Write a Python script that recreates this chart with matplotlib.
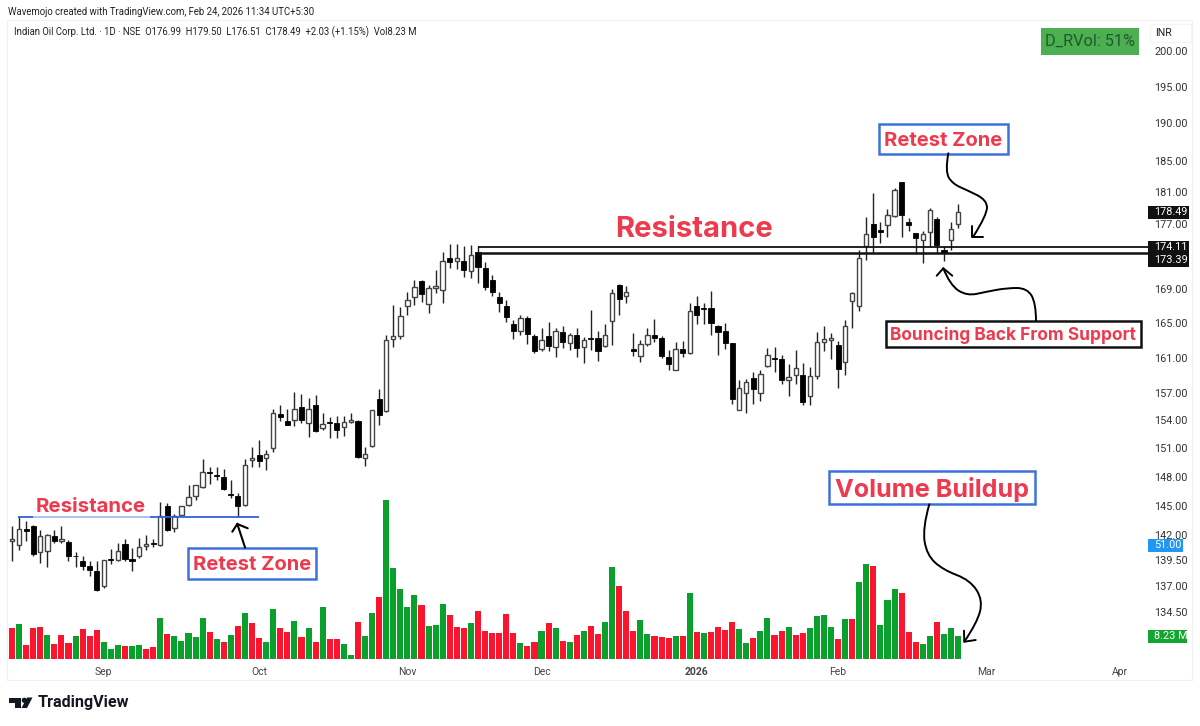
import numpy as np
import matplotlib
matplotlib.use("Agg")
import matplotlib.pyplot as plt
from matplotlib.patches import PathPatch, Polygon, Circle, Rectangle
from matplotlib.path import Path

plt.rcParams['font.family'] = ['Roboto', 'DejaVu Sans']

# =========================
# data
# =========================

opens = [141.39, 141.02, 142.60, 142.94, 140.26, 140.36, 141.93, 141.39, 141.29, 139.93,
         139.44, 138.88, 138.42, 136.93, 139.60, 139.50, 141.12, 139.60, 139.96, 140.92,
         141.19, 140.98, 144.91, 142.70, 143.98, 145.01, 146.01, 146.90, 148.43, 148.15,
         147.94, 146.18, 145.94, 145.01, 149.77, 150.30, 149.95, 150.97, 154.68, 153.96,
         154.00, 155.42, 153.71, 155.71, 153.17, 153.82, 153.71, 153.28, 153.82, 153.96,
         149.95, 151.25, 156.38, 155.00, 163.13, 163.44, 166.94, 168.04, 169.99, 167.21,
         169.10, 168.91, 172.69, 172.41, 172.33, 171.12, 173.47, 171.48, 170.03, 168.00,
         166.94, 164.86, 164.09, 165.52, 163.47, 161.97, 163.44, 162.20, 163.94, 162.67,
         163.63, 162.20, 163.21, 163.28, 162.36, 165.17, 169.46, 168.12, 161.93, 161.21,
         162.59, 163.59, 163.28, 161.06, 159.59, 161.94, 161.52, 166.97, 166.77, 166.77,
         164.66, 164.08, 162.63, 155.19, 157.01, 158.66, 157.01, 160.00, 160.94, 160.86,
         158.43, 159.03, 159.07, 156.72, 158.95, 162.74, 162.97, 162.47, 160.52, 167.56,
         167.01, 174.17, 176.93, 176.15, 176.77, 177.98, 182.23, 177.22, 175.82, 174.91,
         175.90, 177.64, 173.71, 174.91, 176.99]
highs = [142.87, 143.82, 143.38, 143.04, 142.53, 142.13, 142.53, 142.87, 141.52, 140.26,
         139.87, 139.37, 139.37, 139.54, 140.59, 141.25, 141.59, 140.69, 141.69, 142.03,
         141.59, 145.32, 145.25, 144.12, 144.98, 147.14, 147.14, 149.84, 149.00, 149.00,
         148.79, 147.66, 146.28, 149.84, 151.18, 151.90, 150.76, 155.23, 155.71, 155.23,
         157.08, 156.93, 156.45, 156.75, 154.86, 154.36, 154.43, 154.43, 154.86, 154.00,
         151.18, 155.16, 157.45, 163.63, 167.05, 166.86, 168.59, 170.03, 170.03, 169.50,
         171.32, 173.46, 174.50, 174.50, 174.17, 174.37, 174.25, 172.21, 170.67, 168.59,
         167.72, 165.28, 165.95, 165.83, 163.74, 164.40, 165.09, 164.40, 164.59, 163.82,
         164.40, 163.36, 166.46, 164.01, 164.90, 169.02, 169.62, 169.38, 163.82, 163.05,
         164.40, 165.44, 163.44, 161.89, 162.74, 162.86, 167.32, 168.11, 167.32, 168.78,
         164.78, 165.00, 162.67, 158.43, 158.58, 159.37, 159.55, 162.09, 162.20, 161.32,
         160.30, 161.90, 160.38, 159.93, 163.93, 164.58, 163.81, 162.86, 165.29, 168.62,
         173.67, 177.89, 180.86, 177.26, 178.87, 181.50, 182.23, 177.68, 175.82, 176.02,
         178.95, 177.89, 174.25, 177.18, 179.50]
lows = [139.37, 140.52, 141.36, 139.87, 139.21, 138.78, 141.19, 141.19, 139.37, 138.81,
        138.55, 137.90, 136.51, 136.77, 139.11, 139.37, 139.37, 138.46, 139.70, 140.52,
        140.85, 140.95, 142.36, 142.26, 143.88, 144.91, 145.53, 146.80, 147.25, 147.66,
        146.63, 145.77, 143.82, 144.98, 149.00, 149.00, 148.65, 150.58, 153.89, 153.46,
        153.35, 153.71, 152.19, 152.70, 152.99, 152.08, 152.08, 152.26, 153.71, 149.95,
        149.14, 151.15, 153.46, 154.95, 162.20, 163.13, 165.87, 167.13, 167.41, 166.15,
        168.51, 167.33, 171.52, 171.44, 170.43, 170.31, 169.78, 168.83, 168.20, 166.23,
        165.05, 163.13, 163.63, 162.59, 161.51, 161.70, 161.70, 161.06, 162.09, 161.89,
        161.06, 160.38, 161.89, 160.57, 162.20, 162.47, 165.95, 167.33, 161.21, 160.46,
        162.28, 162.74, 160.95, 159.63, 159.55, 161.02, 161.44, 164.89, 164.89, 163.62,
        161.32, 161.98, 155.84, 155.11, 154.82, 155.80, 156.10, 159.93, 159.33, 158.02,
        156.65, 158.06, 155.65, 155.65, 158.58, 161.79, 160.83, 157.57, 159.07, 164.39,
        166.34, 172.45, 173.34, 174.58, 175.28, 177.89, 175.32, 176.02, 173.42, 172.20,
        174.17, 173.42, 172.33, 173.75, 176.51]
closes = [141.59, 142.60, 142.43, 140.10, 141.93, 141.96, 141.39, 141.59, 139.93, 139.87,
          138.95, 138.49, 136.61, 139.50, 139.54, 140.42, 139.63, 139.44, 140.79, 141.09,
          141.12, 143.88, 142.53, 143.88, 144.91, 145.87, 147.11, 148.43, 148.33, 148.05,
          146.70, 146.04, 144.98, 149.24, 149.95, 149.67, 150.33, 154.79, 154.36, 153.53,
          155.23, 154.07, 155.23, 152.81, 153.60, 153.67, 152.92, 153.78, 154.07, 150.05,
          150.33, 155.16, 154.54, 163.05, 163.51, 165.83, 167.72, 169.22, 168.35, 169.10,
          169.38, 172.41, 172.29, 172.73, 171.24, 173.14, 171.60, 169.30, 168.63, 167.33,
          165.67, 164.09, 165.55, 163.74, 161.74, 162.97, 162.36, 164.09, 162.74, 163.63,
          162.09, 163.01, 163.09, 161.74, 163.63, 168.51, 167.80, 168.63, 161.78, 162.55,
          163.63, 163.28, 161.13, 160.31, 161.97, 161.56, 166.42, 165.87, 166.66, 164.97,
          163.97, 162.67, 156.39, 157.57, 158.24, 157.42, 159.14, 161.29, 160.86, 158.43,
          158.80, 159.78, 156.02, 158.88, 162.82, 163.09, 163.24, 159.70, 164.58, 168.50,
          172.81, 175.74, 175.28, 175.98, 178.11, 181.29, 178.11, 176.77, 175.20, 175.77,
          178.70, 174.29, 173.46, 176.39, 178.49]

volumes = [11.13, 12.83, 4.96, 11.25, 11.74, 8.83, 5.57, 8.71, 5.81, 8.35,
           10.77, 8.35, 10.53, 6.29, 3.75, 4.96, 4.72, 4.60, 5.08, 3.63,
           4.36, 14.88, 9.08, 8.23, 6.41, 9.56, 8.11, 14.88, 9.68, 7.26,
           6.29, 8.71, 11.86, 16.82, 13.19, 7.62, 6.05, 18.27, 11.37, 9.92,
           13.92, 8.11, 11.37, 6.05, 19.00, 7.14, 7.14, 5.57, 1.33, 13.55,
           8.47, 16.70, 22.39, 57.72, 33.03, 25.29, 19.00, 23.23, 19.60, 12.10,
           12.34, 19.97, 15.97, 11.62, 11.13, 13.19, 17.30, 10.29, 9.56, 9.32,
           16.34, 9.56, 5.81, 4.60, 6.05, 10.16, 13.19, 11.25, 6.53, 6.17,
           8.83, 10.29, 12.10, 8.95, 13.43, 33.28, 26.50, 17.30, 10.04, 14.28,
           9.20, 8.47, 7.99, 7.74, 8.23, 8.23, 24.08, 9.68, 9.56, 9.68,
           11.50, 10.53, 13.55, 10.77, 5.93, 7.74, 10.16, 14.88, 8.59, 10.16,
           11.74, 8.71, 9.56, 11.13, 15.73, 15.97, 11.62, 7.26, 14.52, 14.52,
           27.95, 34.49, 33.88, 12.34, 21.42, 25.29, 23.84, 9.80, 6.17, 5.32,
           8.23, 13.55, 8.95, 11.25, 8.23]
# volume bar colours, one letter per session, ten to a block
vol_colors = "".join([
    "RGRRRGRRRG", "RRRGGGRGGR", "RGRGGGGGRG", "RGRGRRGGRR", "GRGRGRRGGR",
    "GGRGGGGGRG", "GGRRRGRRRR", "RRGRRGRGRG", "RGRRGGRRRG", "GRRRGRGRGR",
    "RRRGGRGGRR", "GRRGGGGRGR", "GGRGGGRRRG", "GRGGG",
])

price_ticks = [200, 195, 190, 185, 181, 177, 169, 165, 161, 157, 154, 151, 148, 145, 142, 139.5, 137, 134.5]
month_pos = [13, 35, 56, 75, 97, 117, 138, 157]
month_labels = ["Sep", "Oct", "Nov", "Dec", "2026", "Feb", "Mar", "Apr"]

resistance_hi = 174.11
resistance_lo = 173.39
last_close = 178.49
old_resistance = 143.84

RED = "#ee3a4e"
BLUE = "#3f72d8"
GREEN_VOL = "#0aa02c"
RED_VOL = "#fa142e"
BOLD_FONT = ["Inter", "Roboto", "DejaVu Sans"]

# =========================
# layout
# =========================

W, H = 1200, 726
fig = plt.figure(figsize=(W / 100, H / 100), dpi=100, facecolor="white")


def px_axes(x0, y0, x1, y1):
    return fig.add_axes([x0 / W, 1 - y1 / H, (x1 - x0) / W, (y1 - y0) / H])


ax_vol = px_axes(7, 20, 1148, 659)
ax = px_axes(7, 20, 1148, 659)
ax.patch.set_visible(False)
ov = fig.add_axes([0, 0, 1, 1])
ov.set_xlim(0, W)
ov.set_ylim(H, 0)
ov.axis("off")

n = len(closes)
xs = np.arange(n)
xlim = (-0.71, 160.9)

# volume
ax_vol.bar(xs, volumes, width=0.86,
           color=[GREEN_VOL if c == "G" else RED_VOL for c in vol_colors], linewidth=0)
ax_vol.set_xlim(xlim)
ax_vol.set_ylim(0, 232)
ax_vol.axis("off")

# candles
o = np.array(opens)
c = np.array(closes)
up = c >= o
body_lo = np.minimum(o, c)
body_hi = np.maximum(o, c)
ax.set_yscale("log")
ax.vlines(xs, lows, highs, color="#222222", linewidth=1.0, zorder=2)
ax.bar(xs[up], (body_hi - body_lo)[up], bottom=body_lo[up], width=0.62,
       facecolor="white", edgecolor="#444444", linewidth=1.0, zorder=3)
ax.bar(xs[~up], (body_hi - body_lo)[~up], bottom=body_lo[~up], width=0.72,
       facecolor="black", edgecolor="black", linewidth=0.6, zorder=3)

ax.set_xlim(xlim)
ax.set_ylim(130.08, 204.43)
ax.yaxis.tick_right()
ax.set_yticks(price_ticks)
ax.set_yticklabels([f"{t:.2f}" for t in price_ticks])
ax.minorticks_off()
ax.set_xticks(month_pos)
ax.set_xticklabels(month_labels)
ax.get_xticklabels()[4].set_fontweight("bold")
ax.tick_params(axis="y", length=0, pad=4.5, labelsize=7.8, labelcolor="#333333")
ax.tick_params(axis="x", length=0, pad=6, labelsize=7.5, labelcolor="#444444")
for s in ax.spines.values():
    s.set_visible(False)

# levels
ax.hlines([resistance_hi, resistance_lo], 66, xlim[1], color="#111111", linewidth=[1.3, 1.8], zorder=4)
ax.hlines(old_resistance, 0.85, 3, color="#2f62d6", linewidth=1.3, zorder=4)
ax.hlines(old_resistance, 3, 19.6, color="#9db8ee", linewidth=1.2, zorder=4)
ax.hlines(old_resistance, 19.6, 35, color="#2f62d6", linewidth=1.3, zorder=4)

# =========================
# frame, header
# =========================

ov.add_patch(Rectangle((7, 20), 1185, 660, fill=False, edgecolor="#f1f1f1", linewidth=0.8))
ov.add_patch(Rectangle((1150, 24), 41, 18, fill=False, edgecolor="#f4f4f4", linewidth=0.8))
ov.text(8, 12, "Wavemojo created with TradingView.com, Feb 24, 2026 11:34 UTC+5:30",
        fontsize=6.9, color="#222222", va="center")
ov.text(14, 32, "Indian Oil Corp. Ltd. · 1D · NSE  O176.99  H179.50  L176.51  C178.49  +2.03 (+1.15%)  Vol8.23 M",
        fontsize=6.88, color="#222222", va="center")
ov.text(1164, 33, "INR", fontsize=7.6, color="#222222", va="center", ha="center")

ov.add_patch(Rectangle((1041, 28), 98, 27, facecolor="#4caf50", edgecolor="none"))
ov.text(1090, 41.5, "D_RVol: 51%", fontsize=11.7, color="#1e5a2e", va="center", ha="center")


def tag(y, label, color, right=1189):
    ov.add_patch(Rectangle((1148, y - 6.5), right - 1148, 13, facecolor=color, edgecolor="none", zorder=5))
    ov.text(1154, y, label, fontsize=7.8, color="white", va="center", ha="left", zorder=6)


tag(212, "178.49", "#111111")
tag(247, "174.11", "#111111")
tag(260, "173.39", "#111111")
tag(545, "51.00", "#2196f3", right=1183)
tag(636, "8.23 M", "#14a530", right=1187)

# =========================
# annotations
# =========================


def label_box(x0, y0, x1, y1, text, size, edge):
    ov.add_patch(Rectangle((x0, y0), x1 - x0, y1 - y0, facecolor="white", edgecolor=edge, linewidth=1.8, zorder=5))
    ov.text((x0 + x1) / 2, (y0 + y1) / 2 + 1.5, text, fontsize=size, fontweight="bold", color=RED,
            family=BOLD_FONT, va="center", ha="center", zorder=6)


ov.text(694, 229.5, "Resistance", fontsize=21, fontweight="bold", color=RED, family=BOLD_FONT, va="center", ha="center")
ov.text(91, 506.5, "Resistance", fontsize=14.7, fontweight="bold", color=RED, family=BOLD_FONT, va="center", ha="center")
label_box(188, 548, 316, 579, "Retest Zone", 14.5, BLUE)
label_box(879, 124, 1008, 154, "Retest Zone", 14.5, BLUE)
label_box(886, 321, 1141, 347, "Bouncing Back From Support", 12.45, "#111111")
label_box(829, 471, 1035, 504, "Volume Buildup", 18.1, BLUE)


def pen(points, lw=1.4):
    # quadratic spline through the midpoints, looks hand drawn enough
    pts = np.array(points, dtype=float)
    verts = [pts[0]]
    codes = [Path.MOVETO]
    for i in range(1, len(pts) - 1):
        mid = (pts[i] + pts[i + 1]) / 2 if i < len(pts) - 2 else pts[i + 1]
        verts += [pts[i], mid]
        codes += [Path.CURVE3, Path.CURVE3]
    ov.add_patch(PathPatch(Path(verts, codes), fill=False, edgecolor="black", linewidth=lw, capstyle="round", zorder=6))


def head(tip, a, b, lw=1.4):
    ov.plot([a[0], tip[0], b[0]], [a[1], tip[1], b[1]], color="black", linewidth=lw, solid_capstyle="round", zorder=6)


pen([(948.3, 153.3), (945, 172), (953, 184), (966.7, 190), (987, 200), (987, 215), (973, 237)])
head((972, 237), (972, 226), (983, 237))
pen([(1036, 321), (1036, 303), (1027, 288), (1006.7, 288), (986.7, 291.7), (966.7, 296), (950, 285), (943.3, 268.3)])
head((943.3, 268.3), (936.7, 275.7), (952.3, 275.7))
pen([(929.3, 504.3), (922.5, 528), (926.7, 555), (943.3, 570), (970, 580), (983, 600), (977, 623), (964.3, 641.7)])
head((964.3, 641.7), (964, 630.7), (975.7, 640))
ov.plot([245, 237.3], [547.3, 524], color="black", linewidth=1.5, zorder=6)
head((237.3, 524), (232.3, 531.7), (247.7, 528.3), lw=1.5)

# =========================
# logo
# =========================

ov.add_patch(Polygon([(9, 697.5), (21, 697.5), (21, 708), (15, 708), (15, 703), (9, 703)], facecolor="#131722", edgecolor="none"))
ov.add_patch(Circle((24.3, 700.3), 2.6, facecolor="#131722", edgecolor="none"))
ov.add_patch(Polygon([(27, 697.5), (32.5, 697.5), (27, 708), (21.5, 708)], facecolor="#131722", edgecolor="none"))
ov.text(38, 703, "TradingView", fontsize=11.6, fontweight="bold", color="#131722", va="center")

fig.savefig("out.png", dpi=100)
